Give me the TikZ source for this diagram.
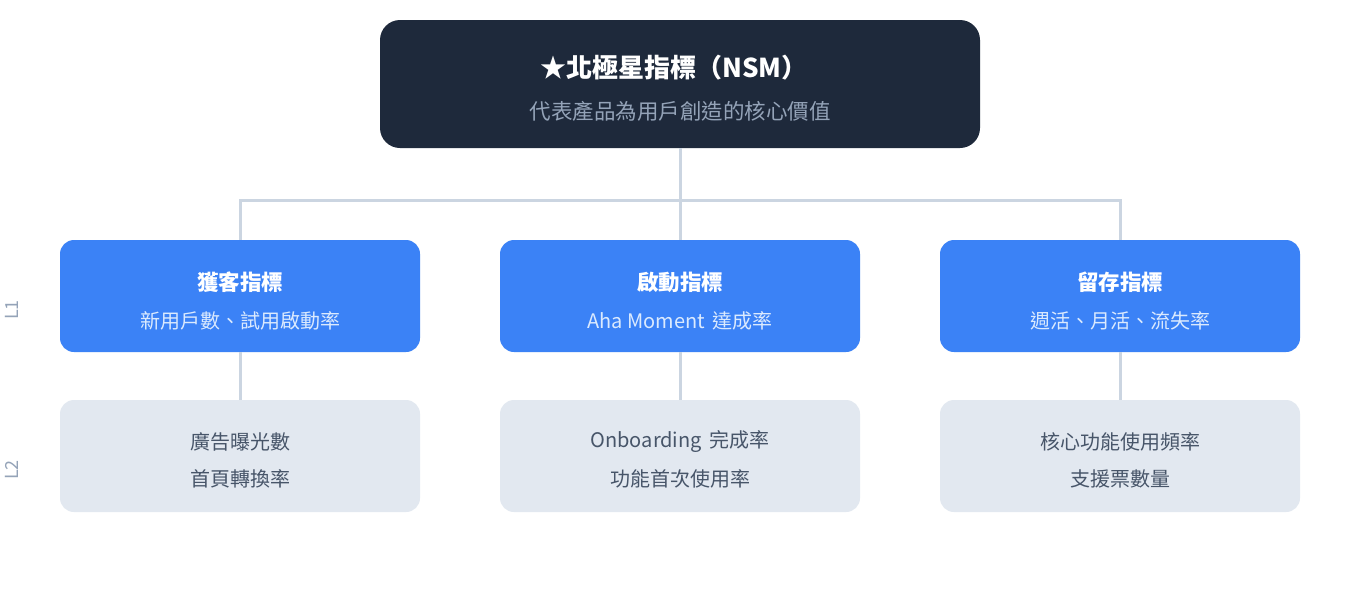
\documentclass[tikz,border=0pt]{standalone}
\usepackage{fontspec}
\setmainfont{Noto Sans CJK TC}
\definecolor{navy}{HTML}{1E293B}
\definecolor{blue}{HTML}{3B82F6}
\definecolor{paleblue}{HTML}{DBEAFE}
\definecolor{slate}{HTML}{E2E8F0}
\definecolor{slatetext}{HTML}{475569}
\definecolor{greytext}{HTML}{94A3B8}
\definecolor{lineclr}{HTML}{CBD5E1}
\tikzset{
  link/.style={draw=lineclr, line width=3pt},
  northbox/.style={fill=navy, rounded corners=20pt, minimum width=600pt, minimum height=128pt, inner sep=0pt},
  l1box/.style={fill=blue, rounded corners=14pt, minimum width=360pt, minimum height=112pt, inner sep=0pt},
  l2box/.style={fill=slate, rounded corners=14pt, minimum width=360pt, minimum height=112pt, inner sep=0pt},
  l1head/.style={text=white, font=\fontsize{21.5}{24}\selectfont\bfseries},
  l1sub/.style={text=paleblue, font=\fontsize{20}{22}\selectfont},
  l2line/.style={text=slatetext, font=\fontsize{20}{22}\selectfont},
  level/.style={text=greytext, rotate=90, font=\fontsize{18}{20}\selectfont}
}
\begin{document}
\begin{tikzpicture}[x=1pt,y=-1pt]
  \useasboundingbox[fill=white] (0,0) rectangle (1360,600);
  % north star
  \node [northbox] (nsm) at (680,84) {};
  \node [text=white, font=\fontsize{26}{28}\selectfont\bfseries] (nsm-title) at (674,68) {★北極星指標（NSM）};
  \node [text=greytext, font=\fontsize{21.5}{24}\selectfont] (nsm-sub) at (680,111) {代表產品為用戶創造的核心價值};
  % level 1
  \node [l1box] (acq) at (240,296) {};
  \node [l1box] (act) at (680,296) {};
  \node [l1box] (ret) at (1120,296) {};
  \node [l1head] (acq-title) at (240,282) {獲客指標};
  \node [l1sub] (acq-sub) at (240,321) {新用戶數、試用啟動率};
  \node [l1head] (act-title) at (680,282) {啟動指標};
  \node [l1sub] (act-sub) at (680,321) {Aha Moment\hspace{3pt} 達成率};
  \node [l1head] (ret-title) at (1120,282) {留存指標};
  \node [l1sub] (ret-sub) at (1120,321) {週活、月活、流失率};
  % level 2
  \node [l2box] (acq2) at (240,456) {};
  \node [l2box] (act2) at (680,456) {};
  \node [l2box] (ret2) at (1120,456) {};
  \node [l2line] (acq2-a) at (240,442) {廣告曝光數};
  \node [l2line] (acq2-b) at (240,479) {首頁轉換率};
  \node [l2line] (act2-a) at (680,442) {Onboarding\hspace{3pt} 完成率};
  \node [l2line] (act2-b) at (680,479) {功能首次使用率};
  \node [l2line] (ret2-a) at (1120,442) {核心功能使用頻率};
  \node [l2line] (ret2-b) at (1120,479) {支援票數量};
  % connectors
  \coordinate (hub) at (680,200);
  \draw [link] (nsm.south) -- (hub);
  \draw [link] (hub) -| (acq.north);
  \draw [link] (hub) -| (ret.north);
  \draw [link] (hub) -- (act.north);
  \draw [link] (acq.south) -- (acq2.north);
  \draw [link] (act.south) -- (act2.north);
  \draw [link] (ret.south) -- (ret2.north);
  % level marks
  \node [level] (lvl1) at (12,310) {L1};
  \node [level] (lvl2) at (12,470) {L2};
\end{tikzpicture}
\end{document}
